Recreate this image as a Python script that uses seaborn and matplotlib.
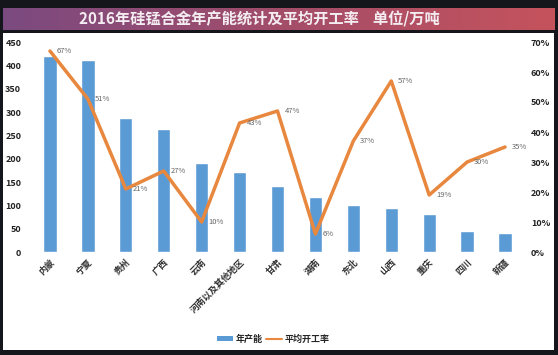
import matplotlib
matplotlib.use('Agg')
import matplotlib.pyplot as plt
from matplotlib.patches import Rectangle, Patch
from matplotlib.lines import Line2D
from matplotlib.ticker import FuncFormatter, MultipleLocator
import numpy as np
import seaborn as sns

regions = ['内蒙', '宁夏', '贵州', '广西', '云南', '河南以及其他地区', '甘肃',
           '湖南', '东北', '山西', '重庆', '四川', '新疆']
capacity = [420, 411, 287, 263, 191, 171, 141, 118, 101, 94, 81, 45, 41]
rate = [67, 51, 21, 27, 10, 43, 47, 6, 37, 57, 19, 30, 35]

title = '2016年硅锰合金年产能统计及平均开工率    单位/万吨'

sns.set_style('white')
plt.rcParams['font.family'] = ['Noto Sans CJK SC', 'DejaVu Sans']

BLUE = '#5b9bd5'
ORANGE = '#e8873e'

fig = plt.figure(figsize=(5.58, 3.55), dpi=100)
fig.patch.set_facecolor('#15151c')

# white panel behind the chart
fig.patches.append(Rectangle((3 / 558, 5 / 355), 551 / 558, 317 / 355,
                             transform=fig.transFigure, facecolor='white',
                             edgecolor='none', zorder=-10))

# title band with gradient
band = fig.add_axes([3 / 558, 325 / 355, 552 / 558, 22 / 355])
grad = np.linspace(0, 1, 256).reshape(1, -1)
cmap = matplotlib.colors.LinearSegmentedColormap.from_list('band', ['#7b4a80', '#a34d6a', '#c5535c'])
band.imshow(grad, aspect='auto', cmap=cmap, extent=[0, 1, 0, 1])
band.set_axis_off()
band.text(0.465, 0.5, title, color='#f4eef2', fontsize=11, fontweight='bold',
          ha='center', va='center', transform=band.transAxes)

ax = fig.add_axes([31 / 558, 103 / 355, 493 / 558, 210 / 355])
ax.set_facecolor('none')
sns.barplot(x=regions, y=capacity, color=BLUE, width=0.35, saturation=1, ax=ax)
ax.set_ylim(0, 450)
ax.yaxis.set_major_locator(MultipleLocator(50))
ax.set_xlim(-0.5, len(regions) - 0.5)
ax.set_xlabel('')
ax.set_ylabel('')

ax2 = ax.twinx()
ax2.set_facecolor('none')
xs = np.arange(len(regions))
sns.lineplot(x=xs, y=np.array(rate) / 100, color=ORANGE, linewidth=2.5, ax=ax2)
ax2.set_ylim(0, 0.70)
ax2.yaxis.set_major_locator(MultipleLocator(0.10))
ax2.yaxis.set_major_formatter(FuncFormatter(lambda v, p: '{:.0f}%'.format(v * 100)))
for x, r in zip(xs, rate):
    ax2.annotate('{}%'.format(r), (x, r / 100), xytext=(5, 0), textcoords='offset points',
                 ha='left', va='center', fontsize=5.5, color='#666666')

for a in (ax, ax2):
    for s in a.spines.values():
        s.set_visible(False)
    a.tick_params(length=0)

ax.tick_params(axis='y', labelsize=6.5, pad=7, colors='#222222')
ax2.tick_params(axis='y', labelsize=6.5, pad=5, colors='#222222')
for lab in ax.get_yticklabels() + ax2.get_yticklabels():
    lab.set_fontweight('bold')
ax.set_xticks(xs)
ax.set_xticklabels(regions, rotation=45, ha='right', rotation_mode='anchor',
                   fontsize=6.5, fontweight='bold', color='#333333')
ax.tick_params(axis='x', pad=4)

handles = [Patch(facecolor=BLUE, edgecolor='none'),
           Line2D([0], [0], color=ORANGE, linewidth=1.5)]
fig.legend(handles, ['年产能', '平均开工率'], loc='center', bbox_to_anchor=(0.49, 0.045),
           ncol=2, frameon=False, handlelength=1.8, handleheight=0.5,
           columnspacing=0.3, handletextpad=0.3, prop={'weight': 'bold', 'size': 6.5})

fig.savefig('out.png', dpi=100, facecolor=fig.get_facecolor())
